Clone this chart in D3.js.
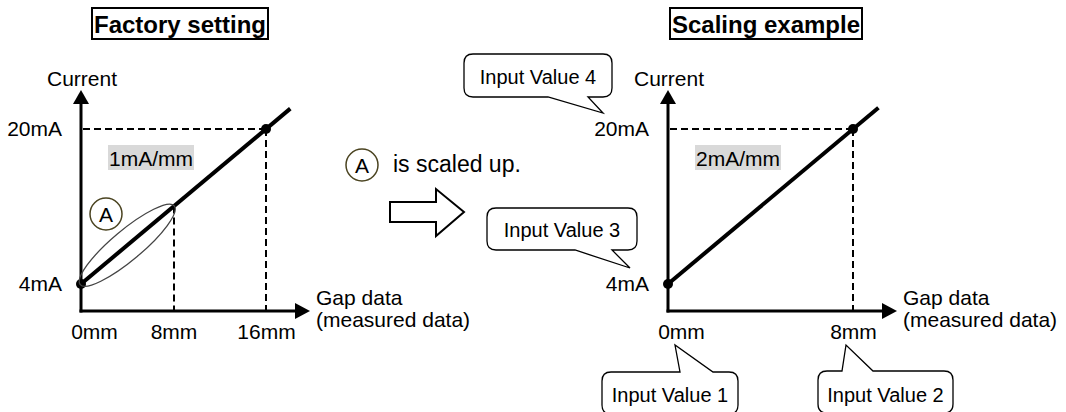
<!DOCTYPE html>
<html>
<head>
<meta charset="utf-8">
<script src="https://cdn.jsdelivr.net/npm/d3@7"></script>
<style>
  html, body { margin: 0; padding: 0; background: #fff; }
  svg { display: block; font-family: "Liberation Sans", Arial, sans-serif; }
</style>
</head>
<body>
<svg id="chart" width="1066" height="412"></svg>
<script>
// ---- data ----------------------------------------------------------
var titles = ['Factory setting', 'Scaling example'];
var currentTicks = [4, 20];            // mA
var factoryGapTicks = [0, 8, 16];      // mm
var scaledGapTicks = [0, 8];           // mm
var factoryGap = [0, 16];              // line end points (mm)
var factoryCurrent = [4, 20];          // (mA)
var scaledGap = [0, 8];
var scaledCurrent = [4, 20];
var factoryLineEnd = 18.1;             // line runs a bit past the last point
var scaledLineEnd = 9.1;
var slopeLabels = ['1mA/mm', '2mA/mm'];
var scaledRange = [0, 8];              // part A of the factory line
var inputLabels = ['Input Value 1', 'Input Value 2', 'Input Value 3', 'Input Value 4'];

// ---- layout --------------------------------------------------------
var svg = d3.select('#chart');
var FONT = 21;
var axisY = 311, axisTop = 90;
var yScale = d3.scaleLinear().domain([4, 20]).range([284, 129]);

var panels = [
    { title: titles[0], x: d3.scaleLinear().domain([0, 16]).range([81, 266]),
      ticks: factoryGapTicks, gap: factoryGap, cur: factoryCurrent,
      lineEnd: factoryLineEnd, slope: slopeLabels[0], xTip: 310, titleX: 180 },
    { title: titles[1], x: d3.scaleLinear().domain([0, 8]).range([668, 853]),
      ticks: scaledGapTicks, gap: scaledGap, cur: scaledCurrent,
      lineEnd: scaledLineEnd, slope: slopeLabels[1], xTip: 897, titleX: 766 }
];

function slopeOf(p) {
    return (p.cur[1] - p.cur[0]) / (p.gap[1] - p.gap[0]);
}

function drawPanel(p) {
    var g = svg.append('g');
    var x = p.x;
    var x0 = x(0);
    var k = slopeOf(p);

    // title with frame
    var t = g.append('text')
        .attr('x', p.titleX).attr('y', 33)
        .attr('text-anchor', 'middle')
        .style('font-size', '24px').style('font-weight', 'bold')
        .text(p.title);
    var bb = t.node().getBBox();
    g.insert('rect', 'text')
        .attr('x', Math.round(bb.x) - 2).attr('y', 8)
        .attr('width', Math.round(bb.width) + 4).attr('height', 31)
        .attr('fill', 'none').attr('stroke', '#000').attr('stroke-width', 2);

    // slope label on grey background
    var s = g.append('text')
        .attr('x', x0 + 28).attr('y', 166)
        .style('font-size', FONT + 'px')
        .text(p.slope);
    var sb = s.node().getBBox();
    g.insert('rect', 'text')
        .attr('x', Math.round(sb.x) - 1).attr('y', 145)
        .attr('width', Math.round(sb.width) + 2).attr('height', 25)
        .attr('fill', '#d9d9d9');
    s.raise();

    // dashed guides
    var last = p.gap.length - 1;
    var dashed = g.append('g')
        .attr('stroke', '#000').attr('stroke-width', 2)
        .attr('stroke-dasharray', '7,4').attr('fill', 'none');
    var hy = Math.round(yScale(p.cur[last]));
    dashed.append('line')
        .attr('x1', x0 + 2).attr('x2', x(p.gap[last]))
        .attr('y1', hy).attr('y2', hy);
    p.ticks.filter(function (d) { return d > 0; }).forEach(function (d) {
        var vx = Math.round(x(d));
        dashed.append('line')
            .attr('x1', vx).attr('x2', vx)
            .attr('y1', yScale(p.cur[0] + k * d)).attr('y2', axisY);
    });

    // axes: lines + arrow heads
    g.append('line').attr('x1', x0).attr('x2', x0)
        .attr('y1', axisY + 1.5).attr('y2', axisTop + 10)
        .attr('stroke', '#000').attr('stroke-width', 3);
    g.append('line').attr('x1', x0 - 1.5).attr('x2', p.xTip - 10)
        .attr('y1', axisY).attr('y2', axisY)
        .attr('stroke', '#000').attr('stroke-width', 3);
    g.append('path')
        .attr('d', 'M' + x0 + ',' + axisTop + 'L' + (x0 - 8) + ',' + (axisTop + 14) +
                   'L' + (x0 + 8) + ',' + (axisTop + 14) + 'Z')
        .attr('fill', '#000');
    g.append('path')
        .attr('d', 'M' + p.xTip + ',' + axisY + 'L' + (p.xTip - 15) + ',' + (axisY - 8) +
                   'L' + (p.xTip - 15) + ',' + (axisY + 8) + 'Z')
        .attr('fill', '#000');

    // tick labels through d3 axes
    var ya = g.append('g').attr('transform', 'translate(' + x0 + ',0)')
        .call(d3.axisLeft(yScale).tickValues(currentTicks).tickSize(0).tickPadding(19)
            .tickFormat(function (d) { return d + 'mA'; }));
    var xa = g.append('g').attr('transform', 'translate(0,' + axisY + ')')
        .call(d3.axisBottom(x).tickValues(p.ticks).tickSize(0).tickPadding(13)
            .tickFormat(function (d) { return d + 'mm'; }));
    [ya, xa].forEach(function (a) {
        a.select('.domain').remove();
        a.selectAll('text').style('font-size', FONT + 'px')
            .style('font-family', '"Liberation Sans", Arial, sans-serif').attr('fill', '#000');
    });
    xa.selectAll('.tick').filter(function (d) { return d === 0; })
        .select('text').attr('x', 13);

    // axis titles
    g.append('text').attr('x', x0 + 1).attr('y', 86)
        .attr('text-anchor', 'middle').style('font-size', FONT + 'px').text('Current');
    var gl = g.append('text').attr('x', p.xTip + 6).attr('y', 305)
        .style('font-size', FONT + 'px');
    gl.append('tspan').text('Gap data');
    gl.append('tspan').attr('x', p.xTip + 6).attr('dy', 22).text('(measured data)');

    // the characteristic line and its points
    var line = d3.line()
        .x(function (d) { return x(d); })
        .y(function (d) { return yScale(p.cur[0] + k * d); });
    g.append('path').datum([p.gap[0], p.lineEnd])
        .attr('d', line).attr('stroke', '#000').attr('stroke-width', 4).attr('fill', 'none');
    g.selectAll('circle.pt').data(p.gap).enter().append('circle')
        .attr('class', 'pt')
        .attr('cx', function (d) { return x(d); })
        .attr('cy', function (d, i) { return yScale(p.cur[i]); })
        .attr('r', 5).attr('fill', '#000');

    return g;
}

function circledA(parent, cx, cy) {
    parent.append('circle').attr('cx', cx).attr('cy', cy).attr('r', 16)
        .attr('fill', 'none').attr('stroke', '#4a4320').attr('stroke-width', 1.5);
    parent.append('text').attr('x', cx).attr('y', cy + 7.5)
        .attr('text-anchor', 'middle').style('font-size', FONT + 'px').text('A');
}

var left = drawPanel(panels[0]);
drawPanel(panels[1]);

// ellipse around part A of the factory line
(function () {
    var p = panels[0], k = slopeOf(p);
    var ax = p.x(scaledRange[0]), ay = yScale(p.cur[0] + k * scaledRange[0]);
    var bx = p.x(scaledRange[1]), by = yScale(p.cur[0] + k * scaledRange[1]);
    var len = Math.hypot(bx - ax, by - ay);
    var ang = Math.atan2(by - ay, bx - ax) * 180 / Math.PI;
    left.append('ellipse')
        .attr('cx', (ax + bx) / 2).attr('cy', (ay + by) / 2)
        .attr('rx', len / 2 + 1).attr('ry', 15)
        .attr('transform', 'rotate(' + ang + ',' + ((ax + bx) / 2) + ',' + ((ay + by) / 2) + ')')
        .attr('fill', 'none').attr('stroke', '#444').attr('stroke-width', 1.3);
    circledA(left, p.x(0) + 25, 214);
})();

// middle: "A is scaled up." and block arrow
circledA(svg, 362, 165);
svg.append('text').attr('x', 393).attr('y', 172)
    .style('font-size', '23px').text('is scaled up.');
svg.append('path')
    .attr('d', 'M390,202L436,202L436,189L464,212L436,236L436,222L390,222Z')
    .attr('fill', '#fff').attr('stroke', '#000').attr('stroke-width', 2)
    .attr('stroke-linejoin', 'miter');

// speech-bubble callouts
var bubbles = [
    { x: 602, y: 372, w: 136, h: 42, side: 'top', a: 680, c: 713, tip: [675, 345], base: 402 },
    { x: 818, y: 371, w: 135, h: 42, side: 'top', a: 842, c: 873, tip: [846, 345], base: 402 },
    { x: 487, y: 208, w: 150, h: 42, side: 'bottom', a: 575, c: 612, tip: [630, 268], base: 237 },
    { x: 464, y: 54, w: 148, h: 43, side: 'bottom', a: 548, c: 588, tip: [603, 113], base: 84 }
];

function bubblePath(b) {
    var r = 9, x = b.x, y = b.y, w = b.w, h = b.h;
    var d = 'M' + (x + r) + ',' + y;
    if (b.side === 'top') d += 'L' + b.a + ',' + y + 'L' + b.tip + 'L' + b.c + ',' + y;
    d += 'L' + (x + w - r) + ',' + y + 'Q' + (x + w) + ',' + y + ' ' + (x + w) + ',' + (y + r);
    d += 'L' + (x + w) + ',' + (y + h - r) + 'Q' + (x + w) + ',' + (y + h) + ' ' + (x + w - r) + ',' + (y + h);
    if (b.side === 'bottom') d += 'L' + b.c + ',' + (y + h) + 'L' + b.tip + 'L' + b.a + ',' + (y + h);
    d += 'L' + (x + r) + ',' + (y + h) + 'Q' + x + ',' + (y + h) + ' ' + x + ',' + (y + h - r);
    d += 'L' + x + ',' + (y + r) + 'Q' + x + ',' + y + ' ' + (x + r) + ',' + y + 'Z';
    return d;
}

var callouts = svg.selectAll('g.callout').data(bubbles).enter().append('g').attr('class', 'callout');
callouts.append('path')
    .attr('d', bubblePath)
    .attr('fill', '#fff').attr('stroke', '#000').attr('stroke-width', 1.3);
callouts.append('text')
    .attr('x', function (d) { return d.x + d.w / 2; })
    .attr('y', function (d) { return d.base; })
    .attr('text-anchor', 'middle').style('font-size', '20px')
    .text(function (d, i) { return inputLabels[i]; });
</script>
</body>
</html>
